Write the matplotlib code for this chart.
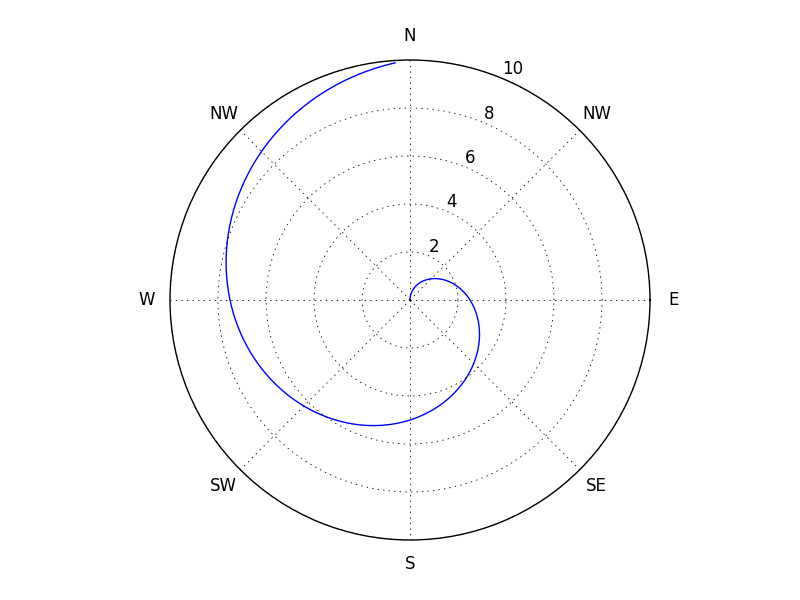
import numpy as np
import matplotlib
matplotlib.use("Agg")
import matplotlib.pyplot as plt

# spiral: angle (degrees, counter-clockwise from E) and radius
theta_deg = [90, 45, 0, -45, -90, -135, -180, -225, -266.4]
radius = [0, 1.25, 2.5, 3.75, 5.0, 6.25, 7.5, 8.75, 9.9]

grid_angles = [0, 45, 90, 135, 180, 225, 270, 315]
grid_labels = ['E', 'NW', 'N', 'NW', 'W', 'SW', 'S', 'SE']
r_ticks = [2, 4, 6, 8, 10]

plt.style.use('classic')
fig = plt.figure(figsize=(8, 6), dpi=100, facecolor='white')
ax = fig.add_subplot(111, projection='polar')

line, = ax.plot(np.radians(theta_deg), radius, color='b', linewidth=1)
# let the polar transform draw each segment as a curve
line._path._interpolation_steps = 60

ax.set_rmax(10)
ax.set_rticks(r_ticks)
ax.set_rlabel_position(67.5)
ax.set_thetagrids(grid_angles, grid_labels)
ax.grid(True, linestyle=':', color='black', linewidth=0.6)
ax.tick_params(labelsize=12)
ax.tick_params(axis='x', pad=10)

plt.savefig('out.png', dpi=100, facecolor='white')
